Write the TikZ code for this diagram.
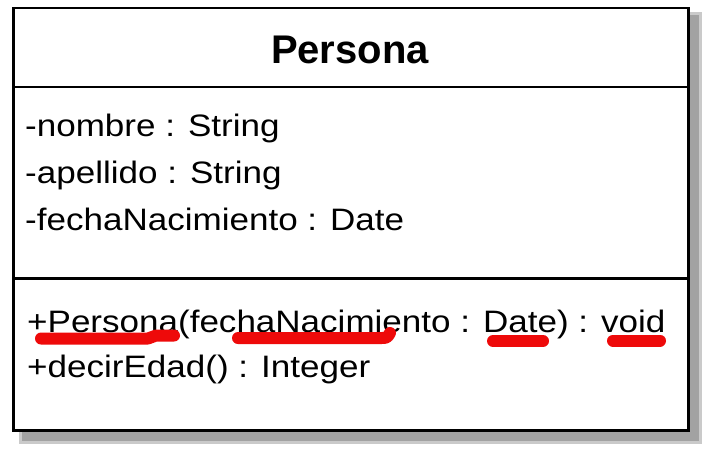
\documentclass[tikz,border=0pt]{standalone}
\usepackage{fontspec}
\setmainfont{Liberation Sans}
\newfontfamily\bodyf[FakeStretch=1.13]{Liberation Sans}
\definecolor{mark}{HTML}{EE0A0A}
\definecolor{shadowdark}{HTML}{A2A2A2}
\definecolor{shadowlight}{HTML}{CACACA}
\begin{document}
\begin{tikzpicture}[x=1pt,y=-1pt,
  attr/.style={anchor=base west, inner sep=0pt, font=\bodyf\fontsize{31}{37}\selectfont},
  titlet/.style={anchor=base, inner sep=0pt, font=\bfseries\fontsize{40}{48}\selectfont},
  frame/.style={draw=black, line width=2.6pt},
  redmark/.style={draw=mark, line width=12pt, line cap=round, line join=round}]
\useasboundingbox (0,0) rectangle (710,451);
% shadow
\fill[shadowlight] (19,12) rectangle (702,444);
\fill[shadowdark] (22,15) rectangle (699,441);
% class box
\node[frame, fill=white, minimum width=674.6pt, minimum height=422.7pt, inner sep=0pt] (box) at (351,219.15) {};
\coordinate (d1) at (0,87);
\coordinate (d2) at (0,278.5);
\draw[frame] (box.west |- d1) -- (box.east |- d1);
\draw[frame] (box.west |- d2) -- (box.east |- d2);
% title
\node[titlet] (title) at (350,63) {Persona};
% attributes
\node[attr] (a1) at (25,136.5) {-nombre : String};
\node[attr] (a2) at (25,183) {-apellido : String};
\node[attr] (a3) at (25,230) {-fechaNacimiento : Date};
% operations
\node[attr] (m1) at (27,332) {+Persona(fechaNacimiento : Date) : void};
\node[attr] (m2) at (27,377) {+decirEdad() : Integer};
% red underlines
\draw[redmark] (41,338.5) -- (148,338.5) -- (156,335.5) -- (174,335.5);
\draw[redmark] (238,338) -- (380,338) .. controls (387,338) .. (390,333);
\draw[redmark] (493,341) -- (543,341);
\draw[redmark] (613,340.5) -- (660,340.5);
\end{tikzpicture}
\end{document}
